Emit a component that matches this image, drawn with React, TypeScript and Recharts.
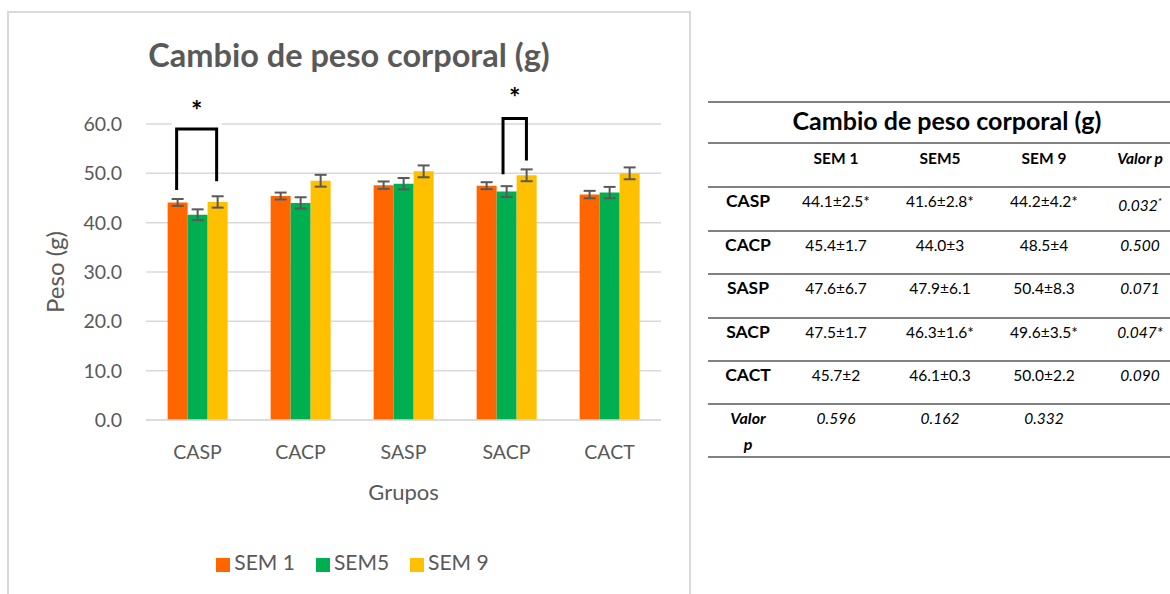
import { BarChart, Bar, XAxis, YAxis, CartesianGrid, Legend, ErrorBar, Label, Rectangle } from 'recharts'

const groups = ['CASP', 'CACP', 'SASP', 'SACP', 'CACT']
const seriesNames = ['SEM 1', 'SEM5', 'SEM 9']
const sem1 = [44.1, 45.4, 47.6, 47.5, 45.7]
const sem5 = [41.6, 44.0, 47.9, 46.3, 46.1]
const sem9 = [44.2, 48.5, 50.4, 49.6, 50.0]
const sem1Err = [0.7, 0.7, 0.75, 0.7, 0.75]
const sem5Err = [1.1, 1.15, 1.15, 1.1, 1.15]
const sem9Err = [1.15, 1.2, 1.2, 1.2, 1.2]
const yTicks = [0, 10, 20, 30, 40, 50, 60]

// significance brackets, x in bar widths from the group's first bar, y in grams
const brackets = [
  { group: 'CASP', fromBar: 0.45, toBar: 2.45, fromY: 46.6, toY: 48.4, top: 59.0, star: 63.6 },
  { group: 'SACP', fromBar: 1.32, toBar: 2.49, fromY: 49.8, toY: 52.6, top: 61.1, star: 66.3 },
]

// table on the right
const tableTitle = 'Cambio de peso corporal (g)'
const tableHeaders = ['SEM 1', 'SEM5', 'SEM 9', 'Valor p']
const sem1Text = ['44.1±2.5*', '45.4±1.7', '47.6±6.7', '47.5±1.7', '45.7±2']
const sem5Text = ['41.6±2.8*', '44.0±3', '47.9±6.1', '46.3±1.6*', '46.1±0.3']
const sem9Text = ['44.2±4.2*', '48.5±4', '50.4±8.3', '49.6±3.5*', '50.0±2.2']
const rowP = ['0.032^*', '0.500', '0.071', '0.047*', '0.090']
const colP = ['0.596', '0.162', '0.332']

const colors = ['#FF6600', '#00B050', '#FFC000']
const axisGray = '#595959'

const chartData = groups.map((g, i) => ({
  group: g,
  sem1: sem1[i],
  sem5: sem5[i],
  sem9: sem9[i],
  e1: sem1Err[i],
  e5: sem5Err[i],
  e9: sem9Err[i],
}))

function Sem1Shape(props: any) {
  const { x, y, width, height, index, fill } = props
  const rect = <Rectangle x={x} y={y} width={width} height={height} fill={fill} />
  const b = brackets.find((br) => br.group === groups[index])
  if (!b) return rect
  const unit = height / sem1[index]
  const base = y + height
  const py = (v: number) => base - v * unit
  const x1 = x + b.fromBar * width
  const x2 = x + b.toBar * width
  const boxTop = py(b.star) - 12
  const boxBottom = py(b.top) - 2
  return (
    <g>
      {rect}
      <rect x={x1 - 5} y={boxTop} width={x2 - x1 + 10} height={Math.max(0, boxBottom - boxTop)} fill="#fff" />
      <path
        d={`M${x1},${py(b.fromY)}V${py(b.top)}H${x2}V${py(b.toY)}`}
        stroke="#000"
        strokeWidth={3}
        fill="none"
      />
      <text x={(x1 + x2) / 2} y={py(b.star) + 14} textAnchor="middle" fontSize={27} fontWeight={700} fill="#000">
        *
      </text>
    </g>
  )
}

function PValue({ text }: { text: string }) {
  const [main, sup] = text.split('^')
  return (
    <>
      {main}
      {sup && <sup style={{ fontSize: 10 }}>{sup}</sup>}
    </>
  )
}

// table geometry (absolute y of the rules, x centres of the columns)
const ruleY = [102, 143, 187, 231, 274, 318, 361, 404, 457]
const colX = [748, 836, 940, 1044, 1140]
const TABLE_LEFT = 708

function Cell({ cx, top, children, style }: any) {
  return (
    <div
      style={{
        position: 'absolute',
        left: cx - TABLE_LEFT - 55,
        width: 110,
        top,
        textAlign: 'center',
        lineHeight: '20px',
        whiteSpace: 'nowrap',
        ...style,
      }}
    >
      {children}
    </div>
  )
}

function DataTable() {
  const bodyRows = groups.map((g, i) => [g, sem1Text[i], sem5Text[i], sem9Text[i], rowP[i]])
  return (
    <div style={{ position: 'absolute', left: TABLE_LEFT, top: 0, width: 480, height: 594, color: '#000' }}>
      {ruleY.map((y, i) => (
        <div
          key={i}
          style={{ position: 'absolute', left: 0, right: 0, top: y - 1, height: 2, background: '#808080' }}
        />
      ))}
      <div
        style={{
          position: 'absolute',
          left: 0,
          width: 478,
          top: ruleY[0] + 3,
          textAlign: 'center',
          fontWeight: 700,
          fontSize: 25,
          lineHeight: '30px',
        }}
      >
        {tableTitle}
      </div>
      {tableHeaders.map((h, j) => (
        <Cell
          key={h}
          cx={colX[j + 1]}
          top={ruleY[1] + 5}
          style={{ fontWeight: 700, fontSize: 15.5, fontStyle: j === 3 ? 'italic' : 'normal' }}
        >
          {h}
        </Cell>
      ))}
      {bodyRows.map((row, i) =>
        row.map((cell, j) => (
          <Cell
            key={`${i}-${j}`}
            cx={colX[j]}
            top={ruleY[i + 2] + 4}
            style={
              j === 0
                ? { fontWeight: 700, fontSize: 17.5 }
                : j === 4
                ? { fontSize: 15.5, fontStyle: 'italic' }
                : { fontSize: 15.5 }
            }
          >
            {j === 4 ? <PValue text={cell} /> : cell}
          </Cell>
        ))
      )}
      <Cell
        cx={colX[0]}
        top={ruleY[7] + 1}
        style={{
          fontWeight: 700,
          fontStyle: 'italic',
          fontSize: 16,
          lineHeight: '26px',
          whiteSpace: 'normal',
          width: 40,
          left: colX[0] - TABLE_LEFT - 20,
        }}
      >
        {tableHeaders[3]}
      </Cell>
      {colP.map((p, j) => (
        <Cell key={p} cx={colX[j + 1]} top={ruleY[7] + 4} style={{ fontSize: 15.5, fontStyle: 'italic' }}>
          {p}
        </Cell>
      ))}
    </div>
  )
}

export default function App() {
  return (
    <div
      style={{
        position: 'absolute',
        left: 0,
        top: 0,
        width: 1170,
        height: 594,
        overflow: 'hidden',
        background: '#fff',
        fontFamily: 'Lato, sans-serif',
      }}
    >
      <div
        style={{
          position: 'absolute',
          left: 7,
          top: 11,
          width: 684,
          height: 600,
          border: '2px solid #d9d9d9',
          boxSizing: 'border-box',
        }}
      >
        <div
          style={{
            position: 'absolute',
            left: 0,
            right: 0,
            top: 22,
            textAlign: 'center',
            fontSize: 32.5,
            fontWeight: 700,
            lineHeight: '40px',
            color: axisGray,
          }}
        >
          Cambio de peso corporal (g)
        </div>
        <BarChart
          width={680}
          height={585}
          data={chartData}
          margin={{ top: 111, right: 28, left: 30, bottom: 24 }}
          barCategoryGap="21%"
          barGap={0}
        >
          <CartesianGrid vertical={false} stroke="#d9d9d9" strokeWidth={1.5} />
          <XAxis
            dataKey="group"
            height={130}
            tickLine={false}
            tickMargin={19}
            axisLine={{ stroke: '#d9d9d9', strokeWidth: 1.5 }}
            tick={{ fontSize: 19.5, fill: axisGray }}
          >
            <Label value="Grupos" position="insideBottom" offset={50} style={{ fontSize: 22, fill: axisGray }} />
          </XAxis>
          <YAxis
            width={107}
            domain={[0, 60]}
            ticks={yTicks}
            tickFormatter={(v: number) => v.toFixed(1)}
            axisLine={false}
            tickLine={false}
            tickMargin={18}
            tick={{ fontSize: 19.5, fill: axisGray }}
          >
            <Label
              value="Peso (g)"
              angle={-90}
              position="insideLeft"
              offset={16}
              style={{ fontSize: 24, fill: axisGray, textAnchor: 'middle' }}
            />
          </YAxis>
          <Legend
            verticalAlign="bottom"
            align="center"
            iconType="square"
            iconSize={14}
            itemSorter={(item: any) => seriesNames.indexOf(item.value)}
            wrapperStyle={{ fontSize: 21, lineHeight: '24px', paddingLeft: 13 }}
            formatter={(value: string) => <span style={{ color: axisGray, marginRight: 11 }}>{value}</span>}
          />
          <Bar dataKey="sem1" name={seriesNames[0]} fill={colors[0]} shape={Sem1Shape} isAnimationActive={false}>
            <ErrorBar dataKey="e1" width={6} strokeWidth={2} stroke={axisGray} />
          </Bar>
          <Bar dataKey="sem5" name={seriesNames[1]} fill={colors[1]} isAnimationActive={false}>
            <ErrorBar dataKey="e5" width={6} strokeWidth={2} stroke={axisGray} />
          </Bar>
          <Bar dataKey="sem9" name={seriesNames[2]} fill={colors[2]} isAnimationActive={false}>
            <ErrorBar dataKey="e9" width={6} strokeWidth={2} stroke={axisGray} />
          </Bar>
        </BarChart>
      </div>
      <DataTable />
    </div>
  )
}
